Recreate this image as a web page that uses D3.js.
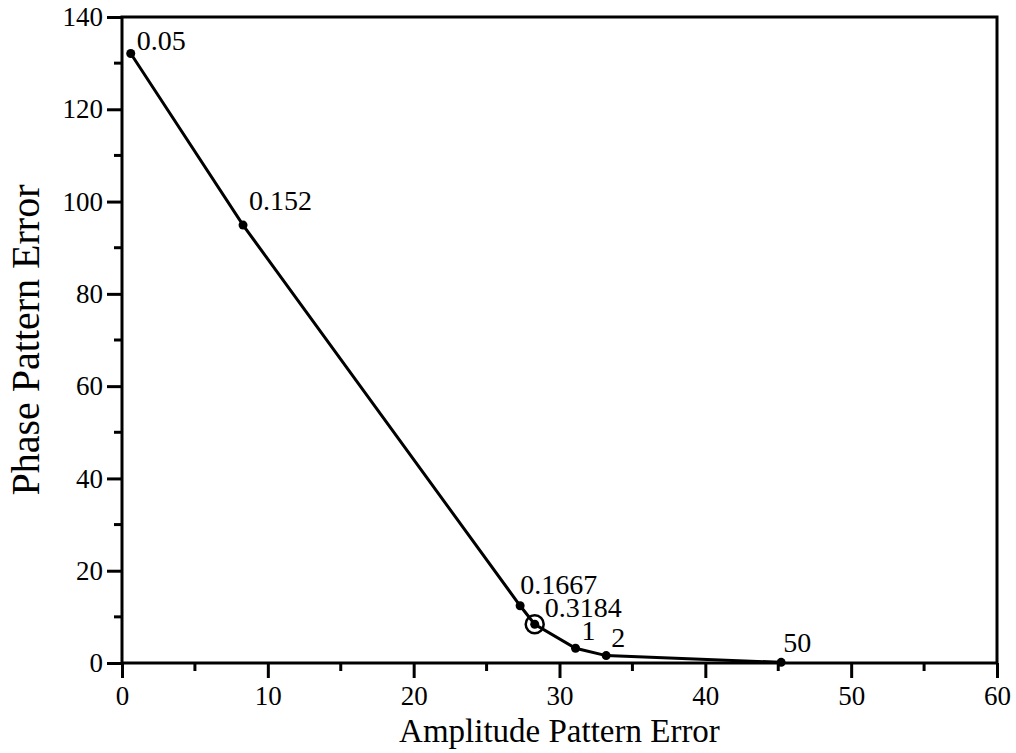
<!DOCTYPE html>
<html>
<head>
<meta charset="utf-8">
<script src="https://d3js.org/d3.v7.min.js"></script>
<style>
  html, body { margin: 0; padding: 0; background: #fff; }
  svg { display: block; }
  svg text { font-family: "Liberation Serif", "Times New Roman", serif; fill: #000; }
</style>
</head>
<body>
<svg id="chart" width="1016" height="753"></svg>
<script>
// trade-off curve: amplitude vs phase pattern error, labelled by weight
const weights = ['0.05', '0.152', '0.1667', '0.3184', '1', '2', '50'];
const amplitudeErr = [0.6, 8.3, 27.3, 28.3, 31.1, 33.2, 45.2];
const phaseErr = [132.1, 94.9, 12.4, 8.4, 3.2, 1.6, 0.15];
const chosenWeight = '0.3184';

const xTicks = [0, 10, 20, 30, 40, 50, 60];
const yTicks = [0, 20, 40, 60, 80, 100, 120, 140];

// label nudges relative to each point (px)
const labelDx = [6, 6, 0, 10, 6, 5, 2];
const labelDy = [-3, -15, -12, -7, -8, -9, -10];

const svg = d3.select('#chart');
const margin = { top: 17, right: 19, bottom: 90, left: 122 };
const W = 1016, H = 753;
const plotW = W - margin.left - margin.right;
const plotH = H - margin.top - margin.bottom;

const x = d3.scaleLinear().domain([0, 60]).range([0, plotW]);
const y = d3.scaleLinear().domain([0, 140]).range([plotH, 0]);

const g = svg.append('g').attr('transform', `translate(${margin.left},${margin.top})`);

// frame
g.append('rect')
  .attr('x', 0).attr('y', 0)
  .attr('width', plotW).attr('height', plotH)
  .attr('fill', 'none')
  .attr('stroke', '#000')
  .attr('stroke-width', 3);

// minor ticks
const xMinor = d3.range(5, 60, 10);
const yMinor = d3.range(10, 140, 20);

g.selectAll('.x-minor').data(xMinor).join('line')
  .attr('x1', d => x(d)).attr('x2', d => x(d))
  .attr('y1', plotH).attr('y2', plotH + 8)
  .attr('stroke', '#000').attr('stroke-width', 3);

g.selectAll('.y-minor').data(yMinor).join('line')
  .attr('x1', -8).attr('x2', 0)
  .attr('y1', d => y(d)).attr('y2', d => y(d))
  .attr('stroke', '#000').attr('stroke-width', 3);

// major ticks + labels
const xAxis = g.append('g')
  .attr('transform', `translate(0,${plotH})`)
  .call(d3.axisBottom(x).tickValues(xTicks).tickSize(15).tickPadding(8).tickFormat(d3.format('d')));
xAxis.attr('font-family', null).attr('font-size', null);
xAxis.select('.domain').remove();
xAxis.selectAll('.tick line').attr('stroke-width', 3);
xAxis.selectAll('.tick text')
  .style('font-family', '"Liberation Serif", serif')
  .style('font-size', '27px')
  .attr('fill', '#000');

const yAxis = g.append('g')
  .call(d3.axisLeft(y).tickValues(yTicks).tickSize(15).tickPadding(4).tickFormat(d3.format('d')));
yAxis.attr('font-family', null).attr('font-size', null);
yAxis.select('.domain').remove();
yAxis.selectAll('.tick line').attr('stroke-width', 3);
yAxis.selectAll('.tick text')
  .style('font-family', '"Liberation Serif", serif')
  .style('font-size', '27px')
  .attr('fill', '#000');

// axis titles
svg.append('text')
  .attr('x', margin.left + plotW / 2)
  .attr('y', 742)
  .attr('text-anchor', 'middle')
  .style('font-size', '33px')
  .text('Amplitude Pattern Error');

svg.append('text')
  .attr('transform', `translate(39,${margin.top + plotH / 2}) rotate(-90)`)
  .attr('text-anchor', 'middle')
  .style('font-size', '40px')
  .text('Phase Pattern Error');

// curve
const pts = weights.map((w, i) => ({ w, ax: amplitudeErr[i], ph: phaseErr[i], dx: labelDx[i], dy: labelDy[i] }));

g.append('path')
  .datum(pts)
  .attr('fill', 'none')
  .attr('stroke', '#000')
  .attr('stroke-width', 3)
  .attr('d', d3.line().x(d => x(d.ax)).y(d => y(d.ph)));

g.selectAll('.pt').data(pts).join('circle')
  .attr('cx', d => x(d.ax))
  .attr('cy', d => y(d.ph))
  .attr('r', 4.5)
  .attr('fill', '#000');

// highlight ring on chosen weight
const chosen = pts.find(d => d.w === chosenWeight);
g.append('circle')
  .attr('cx', x(chosen.ax))
  .attr('cy', y(chosen.ph))
  .attr('r', 9)
  .attr('fill', 'none')
  .attr('stroke', '#000')
  .attr('stroke-width', 2.5);

g.selectAll('.pt-label').data(pts).join('text')
  .attr('x', d => x(d.ax) + d.dx)
  .attr('y', d => y(d.ph) + d.dy)
  .style('font-size', '28px')
  .text(d => d.w);
</script>
</body>
</html>
